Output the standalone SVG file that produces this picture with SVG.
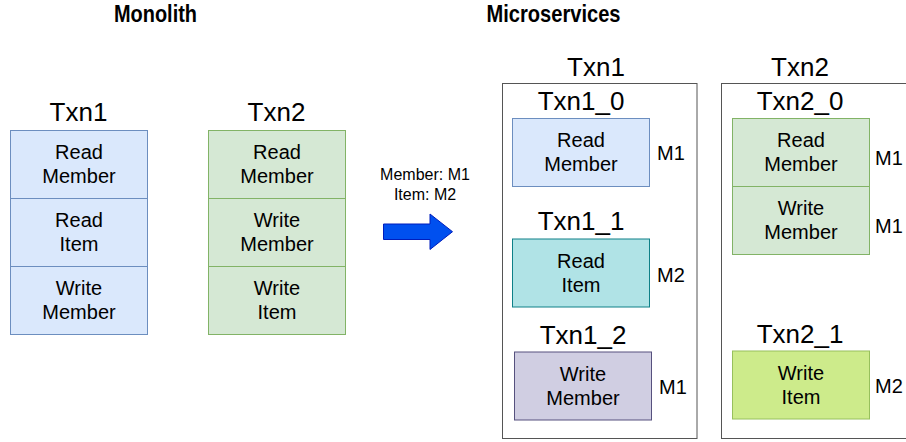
<svg xmlns="http://www.w3.org/2000/svg" width="906" height="442" viewBox="0 0 906 442">
<style>
text{font-family:"Liberation Sans",Arial,sans-serif;fill:#000;}
.h{font-size:24px;font-weight:bold;text-anchor:middle;}
.t{font-size:26px;text-anchor:middle;}
.b{font-size:20px;text-anchor:middle;}
.m{font-size:20px;}
.s{font-size:16px;text-anchor:middle;}
.blue{fill:#dae8fc;stroke:#6c8ebf;stroke-width:1;}
.green{fill:#d5e8d4;stroke:#82b366;stroke-width:1;}
.teal{fill:#b0e3e6;stroke:#0e8088;stroke-width:1;}
.purple{fill:#d0cee2;stroke:#56517e;stroke-width:1;}
.lime{fill:#cdeb8b;stroke:#97c05c;stroke-width:1;}
.outer{fill:none;stroke:#555;stroke-width:1;}
</style>
<rect width="906" height="442" fill="#fff"/>
<text class="h" x="155.5" y="22" textLength="83" lengthAdjust="spacingAndGlyphs">Monolith</text>
<text class="h" x="553.5" y="22" textLength="134" lengthAdjust="spacingAndGlyphs">Microservices</text>

<g id="mono-txn1">
<text class="t" x="78.5" y="121">Txn1</text>
<rect class="blue" x="10.5" y="130.5" width="137" height="68"/>
<rect class="blue" x="10.5" y="198.5" width="137" height="68"/>
<rect class="blue" x="10.5" y="266.5" width="137" height="68"/>
<text class="b" x="79" y="159">Read</text><text class="b" x="79" y="183">Member</text>
<text class="b" x="79" y="227">Read</text><text class="b" x="79" y="251">Item</text>
<text class="b" x="79" y="295">Write</text><text class="b" x="79" y="319">Member</text>
</g>

<g id="mono-txn2">
<text class="t" x="276.5" y="121">Txn2</text>
<rect class="green" x="208.5" y="130.5" width="137" height="68"/>
<rect class="green" x="208.5" y="198.5" width="137" height="68"/>
<rect class="green" x="208.5" y="266.5" width="137" height="68"/>
<text class="b" x="277" y="159">Read</text><text class="b" x="277" y="183">Member</text>
<text class="b" x="277" y="227">Write</text><text class="b" x="277" y="251">Member</text>
<text class="b" x="277" y="295">Write</text><text class="b" x="277" y="319">Item</text>
</g>

<g id="connectors">
<text class="s" x="425" y="179.5">Member: M1</text>
<text class="s" x="425" y="200">Item: M2</text>
<polygon points="383.5,224 430,224 430,214 452.5,231.7 430,249.5 430,239.5 383.5,239.5" fill="#0050ef" stroke="#001dbc" stroke-width="1"/>
</g>

<g id="ms-txn1">
<text class="t" x="596" y="76">Txn1</text>
<rect class="outer" x="502.5" y="83.5" width="194.5" height="355"/>
</g>
<g id="txn1_0">
<text class="t" x="581" y="110">Txn1_0</text>
<rect class="blue" x="512.5" y="118.5" width="137" height="68"/>
<text class="b" x="581" y="147">Read</text><text class="b" x="581" y="171">Member</text>
<text class="m" x="657" y="160">M1</text>
</g>
<g id="txn1_1">
<text class="t" x="581" y="230">Txn1_1</text>
<rect class="teal" x="512.5" y="239" width="137" height="68"/>
<text class="b" x="581" y="267.5">Read</text><text class="b" x="581" y="291.5">Item</text>
<text class="m" x="657" y="281.5">M2</text>
</g>
<g id="txn1_2">
<text class="t" x="583" y="343.5">Txn1_2</text>
<rect class="purple" x="514.5" y="352" width="137" height="68"/>
<text class="b" x="583" y="380.5">Write</text><text class="b" x="583" y="404.5">Member</text>
<text class="m" x="659" y="394">M1</text>
</g>

<g id="ms-txn2">
<text class="t" x="800" y="76">Txn2</text>
<rect class="outer" x="721.5" y="83.5" width="200" height="355"/>
</g>
<g id="txn2_0">
<text class="t" x="800" y="110">Txn2_0</text>
<rect class="green" x="732.5" y="118.5" width="137" height="68"/>
<rect class="green" x="732.5" y="186.5" width="137" height="68"/>
<text class="b" x="801" y="147">Read</text><text class="b" x="801" y="171">Member</text>
<text class="b" x="801" y="215">Write</text><text class="b" x="801" y="239">Member</text>
<text class="m" x="875" y="165">M1</text>
<text class="m" x="875" y="232.5">M1</text>
</g>
<g id="txn2_1">
<text class="t" x="800" y="343">Txn2_1</text>
<rect class="lime" x="732.5" y="351" width="137" height="68"/>
<text class="b" x="801" y="379.5">Write</text><text class="b" x="801" y="403.5">Item</text>
<text class="m" x="875" y="393">M2</text>
</g>
</svg>
